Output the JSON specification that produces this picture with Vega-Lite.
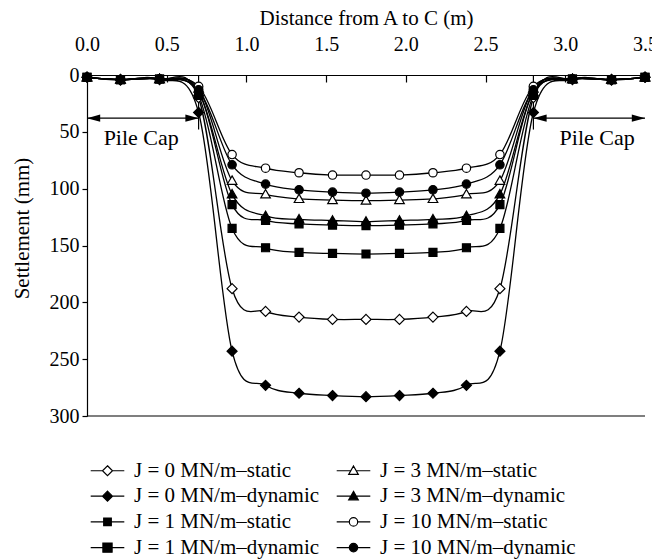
{
  "$schema": "https://vega.github.io/schema/vega-lite/v6.json",
  "width": 558,
  "height": 341,
  "autosize": {"type": "none"},
  "padding": {"left": 87, "top": 75, "right": 7, "bottom": 144},
  "background": "white",
  "config": {
    "view": {"stroke": null},
    "font": "Liberation Serif",
    "axis": {"labelFont": "Liberation Serif", "titleFont": "Liberation Serif", "labelFontSize": 20, "titleFontSize": 21, "titleFontWeight": "normal", "domainColor": "black", "tickColor": "black", "labelColor": "black", "titleColor": "black", "grid": false, "domainWidth": 1.2, "tickWidth": 1.2},
    "legend": {"symbolOpacity": 1, "symbolStrokeWidth": 1.2, "labelFont": "Liberation Serif", "labelFontSize": 21, "labelColor": "black", "labelLimit": 400}
  },
  "datasets": {
    "curves": [
      {"series": "J = 0 MN/m–static", "x": 0, "y": 2}, {"series": "J = 0 MN/m–static", "x": 0.21, "y": 4}, {"series": "J = 0 MN/m–static", "x": 0.455, "y": 3.5}, {"series": "J = 0 MN/m–static", "x": 0.7, "y": 20}, {"series": "J = 0 MN/m–static", "x": 0.91, "y": 188}, {"series": "J = 0 MN/m–static", "x": 1.12, "y": 208}, {"series": "J = 0 MN/m–static", "x": 1.33, "y": 213}, {"series": "J = 0 MN/m–static", "x": 1.54, "y": 215}, {"series": "J = 0 MN/m–static", "x": 1.75, "y": 215}, {"series": "J = 0 MN/m–static", "x": 1.96, "y": 215}, {"series": "J = 0 MN/m–static", "x": 2.17, "y": 213}, {"series": "J = 0 MN/m–static", "x": 2.38, "y": 208}, {"series": "J = 0 MN/m–static", "x": 2.59, "y": 188}, {"series": "J = 0 MN/m–static", "x": 2.8, "y": 20}, {"series": "J = 0 MN/m–static", "x": 3.045, "y": 3.5}, {"series": "J = 0 MN/m–static", "x": 3.29, "y": 4}, {"series": "J = 0 MN/m–static", "x": 3.5, "y": 2},
      {"series": "J = 0 MN/m–dynamic", "x": 0, "y": 2}, {"series": "J = 0 MN/m–dynamic", "x": 0.21, "y": 4.5}, {"series": "J = 0 MN/m–dynamic", "x": 0.455, "y": 4}, {"series": "J = 0 MN/m–dynamic", "x": 0.7, "y": 33}, {"series": "J = 0 MN/m–dynamic", "x": 0.91, "y": 243}, {"series": "J = 0 MN/m–dynamic", "x": 1.12, "y": 273}, {"series": "J = 0 MN/m–dynamic", "x": 1.33, "y": 280}, {"series": "J = 0 MN/m–dynamic", "x": 1.54, "y": 282}, {"series": "J = 0 MN/m–dynamic", "x": 1.75, "y": 283}, {"series": "J = 0 MN/m–dynamic", "x": 1.96, "y": 282}, {"series": "J = 0 MN/m–dynamic", "x": 2.17, "y": 280}, {"series": "J = 0 MN/m–dynamic", "x": 2.38, "y": 273}, {"series": "J = 0 MN/m–dynamic", "x": 2.59, "y": 243}, {"series": "J = 0 MN/m–dynamic", "x": 2.8, "y": 33}, {"series": "J = 0 MN/m–dynamic", "x": 3.045, "y": 4}, {"series": "J = 0 MN/m–dynamic", "x": 3.29, "y": 4.5}, {"series": "J = 0 MN/m–dynamic", "x": 3.5, "y": 2},
      {"series": "J = 1 MN/m–static", "x": 0, "y": 2}, {"series": "J = 1 MN/m–static", "x": 0.21, "y": 4}, {"series": "J = 1 MN/m–static", "x": 0.455, "y": 3.5}, {"series": "J = 1 MN/m–static", "x": 0.7, "y": 14}, {"series": "J = 1 MN/m–static", "x": 0.91, "y": 114}, {"series": "J = 1 MN/m–static", "x": 1.12, "y": 128}, {"series": "J = 1 MN/m–static", "x": 1.33, "y": 131}, {"series": "J = 1 MN/m–static", "x": 1.54, "y": 132}, {"series": "J = 1 MN/m–static", "x": 1.75, "y": 132.5}, {"series": "J = 1 MN/m–static", "x": 1.96, "y": 132}, {"series": "J = 1 MN/m–static", "x": 2.17, "y": 131}, {"series": "J = 1 MN/m–static", "x": 2.38, "y": 128}, {"series": "J = 1 MN/m–static", "x": 2.59, "y": 114}, {"series": "J = 1 MN/m–static", "x": 2.8, "y": 14}, {"series": "J = 1 MN/m–static", "x": 3.045, "y": 3.5}, {"series": "J = 1 MN/m–static", "x": 3.29, "y": 4}, {"series": "J = 1 MN/m–static", "x": 3.5, "y": 2},
      {"series": "J = 1 MN/m–dynamic", "x": 0, "y": 2}, {"series": "J = 1 MN/m–dynamic", "x": 0.21, "y": 4}, {"series": "J = 1 MN/m–dynamic", "x": 0.455, "y": 3.5}, {"series": "J = 1 MN/m–dynamic", "x": 0.7, "y": 18}, {"series": "J = 1 MN/m–dynamic", "x": 0.91, "y": 135}, {"series": "J = 1 MN/m–dynamic", "x": 1.12, "y": 152}, {"series": "J = 1 MN/m–dynamic", "x": 1.33, "y": 156}, {"series": "J = 1 MN/m–dynamic", "x": 1.54, "y": 157}, {"series": "J = 1 MN/m–dynamic", "x": 1.75, "y": 157.5}, {"series": "J = 1 MN/m–dynamic", "x": 1.96, "y": 157}, {"series": "J = 1 MN/m–dynamic", "x": 2.17, "y": 156}, {"series": "J = 1 MN/m–dynamic", "x": 2.38, "y": 152}, {"series": "J = 1 MN/m–dynamic", "x": 2.59, "y": 135}, {"series": "J = 1 MN/m–dynamic", "x": 2.8, "y": 18}, {"series": "J = 1 MN/m–dynamic", "x": 3.045, "y": 3.5}, {"series": "J = 1 MN/m–dynamic", "x": 3.29, "y": 4}, {"series": "J = 1 MN/m–dynamic", "x": 3.5, "y": 2},
      {"series": "J = 3 MN/m–static", "x": 0, "y": 2}, {"series": "J = 3 MN/m–static", "x": 0.21, "y": 4}, {"series": "J = 3 MN/m–static", "x": 0.455, "y": 3.5}, {"series": "J = 3 MN/m–static", "x": 0.7, "y": 12}, {"series": "J = 3 MN/m–static", "x": 0.91, "y": 93}, {"series": "J = 3 MN/m–static", "x": 1.12, "y": 105}, {"series": "J = 3 MN/m–static", "x": 1.33, "y": 109}, {"series": "J = 3 MN/m–static", "x": 1.54, "y": 110}, {"series": "J = 3 MN/m–static", "x": 1.75, "y": 110.5}, {"series": "J = 3 MN/m–static", "x": 1.96, "y": 110}, {"series": "J = 3 MN/m–static", "x": 2.17, "y": 109}, {"series": "J = 3 MN/m–static", "x": 2.38, "y": 105}, {"series": "J = 3 MN/m–static", "x": 2.59, "y": 93}, {"series": "J = 3 MN/m–static", "x": 2.8, "y": 12}, {"series": "J = 3 MN/m–static", "x": 3.045, "y": 3.5}, {"series": "J = 3 MN/m–static", "x": 3.29, "y": 4}, {"series": "J = 3 MN/m–static", "x": 3.5, "y": 2},
      {"series": "J = 3 MN/m–dynamic", "x": 0, "y": 2}, {"series": "J = 3 MN/m–dynamic", "x": 0.21, "y": 4}, {"series": "J = 3 MN/m–dynamic", "x": 0.455, "y": 3.5}, {"series": "J = 3 MN/m–dynamic", "x": 0.7, "y": 15}, {"series": "J = 3 MN/m–dynamic", "x": 0.91, "y": 105}, {"series": "J = 3 MN/m–dynamic", "x": 1.12, "y": 124}, {"series": "J = 3 MN/m–dynamic", "x": 1.33, "y": 127}, {"series": "J = 3 MN/m–dynamic", "x": 1.54, "y": 128}, {"series": "J = 3 MN/m–dynamic", "x": 1.75, "y": 129}, {"series": "J = 3 MN/m–dynamic", "x": 1.96, "y": 128}, {"series": "J = 3 MN/m–dynamic", "x": 2.17, "y": 127}, {"series": "J = 3 MN/m–dynamic", "x": 2.38, "y": 124}, {"series": "J = 3 MN/m–dynamic", "x": 2.59, "y": 105}, {"series": "J = 3 MN/m–dynamic", "x": 2.8, "y": 15}, {"series": "J = 3 MN/m–dynamic", "x": 3.045, "y": 3.5}, {"series": "J = 3 MN/m–dynamic", "x": 3.29, "y": 4}, {"series": "J = 3 MN/m–dynamic", "x": 3.5, "y": 2},
      {"series": "J = 10 MN/m–static", "x": 0, "y": 2}, {"series": "J = 10 MN/m–static", "x": 0.21, "y": 4}, {"series": "J = 10 MN/m–static", "x": 0.455, "y": 3.5}, {"series": "J = 10 MN/m–static", "x": 0.7, "y": 10}, {"series": "J = 10 MN/m–static", "x": 0.91, "y": 70}, {"series": "J = 10 MN/m–static", "x": 1.12, "y": 82}, {"series": "J = 10 MN/m–static", "x": 1.33, "y": 86}, {"series": "J = 10 MN/m–static", "x": 1.54, "y": 88}, {"series": "J = 10 MN/m–static", "x": 1.75, "y": 88}, {"series": "J = 10 MN/m–static", "x": 1.96, "y": 88}, {"series": "J = 10 MN/m–static", "x": 2.17, "y": 86}, {"series": "J = 10 MN/m–static", "x": 2.38, "y": 82}, {"series": "J = 10 MN/m–static", "x": 2.59, "y": 70}, {"series": "J = 10 MN/m–static", "x": 2.8, "y": 10}, {"series": "J = 10 MN/m–static", "x": 3.045, "y": 3.5}, {"series": "J = 10 MN/m–static", "x": 3.29, "y": 4}, {"series": "J = 10 MN/m–static", "x": 3.5, "y": 2},
      {"series": "J = 10 MN/m–dynamic", "x": 0, "y": 2}, {"series": "J = 10 MN/m–dynamic", "x": 0.21, "y": 4}, {"series": "J = 10 MN/m–dynamic", "x": 0.455, "y": 3.5}, {"series": "J = 10 MN/m–dynamic", "x": 0.7, "y": 13}, {"series": "J = 10 MN/m–dynamic", "x": 0.91, "y": 79}, {"series": "J = 10 MN/m–dynamic", "x": 1.12, "y": 96}, {"series": "J = 10 MN/m–dynamic", "x": 1.33, "y": 101}, {"series": "J = 10 MN/m–dynamic", "x": 1.54, "y": 103}, {"series": "J = 10 MN/m–dynamic", "x": 1.75, "y": 104}, {"series": "J = 10 MN/m–dynamic", "x": 1.96, "y": 103}, {"series": "J = 10 MN/m–dynamic", "x": 2.17, "y": 101}, {"series": "J = 10 MN/m–dynamic", "x": 2.38, "y": 96}, {"series": "J = 10 MN/m–dynamic", "x": 2.59, "y": 79}, {"series": "J = 10 MN/m–dynamic", "x": 2.8, "y": 13}, {"series": "J = 10 MN/m–dynamic", "x": 3.045, "y": 3.5}, {"series": "J = 10 MN/m–dynamic", "x": 3.29, "y": 4}, {"series": "J = 10 MN/m–dynamic", "x": 3.5, "y": 2}
    ],
    "caps": [
      {"x": 0, "x2": 0.7, "y": 38, "edge": 0.7, "top": 0, "bottom": 48, "label": "Pile Cap", "lx": 0.34, "ly": 55},
      {"x": 2.8, "x2": 3.5, "y": 38, "edge": 2.8, "top": 0, "bottom": 48, "label": "Pile Cap", "lx": 3.2, "ly": 55}
    ],
    "frame": [{"y": 300}]
  },
  "layer": [
    {
      "data": {"name": "caps"},
      "mark": {"type": "rule", "color": "black", "strokeWidth": 1.2},
      "encoding": {
        "x": {"field": "edge", "type": "quantitative", "scale": {"domain": [0, 3.5], "nice": false, "zero": false},
              "axis": {"orient": "top", "values": [0, 0.5, 1, 1.5, 2, 2.5, 3, 3.5], "format": ".1f", "tickSize": -7, "labelPadding": 28, "labelFlush": false, "labelOverlap": false, "title": "Distance from A to C (m)", "titlePadding": 6}},
        "y": {"field": "top", "type": "quantitative", "scale": {"domain": [0, 300], "reverse": true, "nice": false},
              "axis": {"orient": "left", "values": [0, 50, 100, 150, 200, 250, 300], "tickSize": 5, "labelPadding": 3, "title": "Settlement (mm)", "titlePadding": 17, "titleY": 153}},
        "y2": {"field": "bottom"}
      }
    },
    {
      "data": {"name": "frame"},
      "mark": {"type": "rule", "color": "black", "strokeWidth": 1.2},
      "encoding": {"y": {"field": "y", "type": "quantitative"}}
    },
    {
      "data": {"name": "caps"},
      "mark": {"type": "rule", "color": "black", "strokeWidth": 1.2},
      "encoding": {"x": {"field": "x", "type": "quantitative"}, "x2": {"field": "x2"}, "y": {"field": "y", "type": "quantitative"}}
    },
    {
      "data": {"name": "caps"},
      "mark": {"type": "point", "shape": "M0,0L2.2,-0.6L2.2,0.6Z", "size": 144, "filled": true, "color": "black", "opacity": 1, "strokeWidth": 0},
      "encoding": {"x": {"field": "x", "type": "quantitative"}, "y": {"field": "y", "type": "quantitative"}}
    },
    {
      "data": {"name": "caps"},
      "mark": {"type": "point", "shape": "M0,0L-2.2,-0.6L-2.2,0.6Z", "size": 144, "filled": true, "color": "black", "opacity": 1, "strokeWidth": 0},
      "encoding": {"x": {"field": "x2", "type": "quantitative"}, "y": {"field": "y", "type": "quantitative"}}
    },
    {
      "data": {"name": "caps"},
      "mark": {"type": "text", "font": "Liberation Serif", "fontSize": 22, "color": "black", "align": "center", "baseline": "middle"},
      "encoding": {"x": {"field": "lx", "type": "quantitative"}, "y": {"field": "ly", "type": "quantitative"}, "text": {"field": "label"}}
    },
    {
      "data": {"name": "curves"},
      "mark": {"type": "line", "interpolate": "cardinal", "color": "black", "strokeWidth": 1.3},
      "encoding": {"x": {"field": "x", "type": "quantitative"}, "y": {"field": "y", "type": "quantitative"}, "detail": {"field": "series"}}
    },
    {
      "data": {"name": "curves"},
      "transform": [{"filter": {"field": "series", "oneOf": ["J = 0 MN/m–static", "J = 0 MN/m–dynamic"]}}],
      "mark": {"type": "point", "shape": "M0,-1.25L1.25,0L0,1.25L-1.25,0Z", "size": 64, "filled": true, "stroke": "black", "strokeWidth": 1.2, "opacity": 1},
      "encoding": {"x": {"field": "x", "type": "quantitative"}, "y": {"field": "y", "type": "quantitative"},
        "fill": {"field": "series", "type": "nominal", "scale": {"domain": ["J = 0 MN/m–static", "J = 0 MN/m–dynamic", "J = 1 MN/m–static", "J = 1 MN/m–dynamic", "J = 3 MN/m–static", "J = 3 MN/m–dynamic", "J = 10 MN/m–static", "J = 10 MN/m–dynamic"], "range": ["white", "black", "black", "black", "white", "black", "white", "black"]}}}
    },
    {
      "data": {"name": "curves"},
      "transform": [{"filter": {"field": "series", "oneOf": ["J = 1 MN/m–static", "J = 1 MN/m–dynamic"]}}],
      "mark": {"type": "point", "shape": "M-1,-1H1V1H-1Z", "size": 64, "filled": true, "stroke": "black", "strokeWidth": 1.2, "opacity": 1},
      "encoding": {"x": {"field": "x", "type": "quantitative"}, "y": {"field": "y", "type": "quantitative"},
        "fill": {"field": "series", "type": "nominal"}}
    },
    {
      "data": {"name": "curves"},
      "transform": [{"filter": {"field": "series", "oneOf": ["J = 3 MN/m–static", "J = 3 MN/m–dynamic"]}}],
      "mark": {"type": "point", "shape": "M0,-1.2L1.2,0.9L-1.2,0.9Z", "size": 64, "filled": true, "stroke": "black", "strokeWidth": 1.2, "opacity": 1},
      "encoding": {"x": {"field": "x", "type": "quantitative"}, "y": {"field": "y", "type": "quantitative"},
        "fill": {"field": "series", "type": "nominal"}}
    },
    {
      "data": {"name": "curves"},
      "transform": [{"filter": {"field": "series", "oneOf": ["J = 10 MN/m–static", "J = 10 MN/m–dynamic"]}}],
      "mark": {"type": "point", "shape": "M-1.05,0A1.05,1.05,0,1,1,1.05,0A1.05,1.05,0,1,1,-1.05,0Z", "size": 64, "filled": true, "stroke": "black", "strokeWidth": 1.2, "opacity": 1},
      "encoding": {"x": {"field": "x", "type": "quantitative"}, "y": {"field": "y", "type": "quantitative"},
        "fill": {"field": "series", "type": "nominal"}}
    },
    {
      "data": {"name": "curves"},
      "mark": {"type": "point", "filled": true, "stroke": "black", "strokeWidth": 1.2, "opacity": 1, "fillOpacity": 0, "strokeOpacity": 0},
      "encoding": {"x": {"field": "x", "type": "quantitative"}, "y": {"field": "y", "type": "quantitative"},
        "fill": {"field": "series", "type": "nominal",
          "legend": {"orient": "none", "legendX": 10, "legendY": 385, "columns": 2, "title": null, "symbolSize": 64, "labelFontSize": 21, "labelOffset": 16, "rowPadding": 3.7, "columnPadding": 4, "gridAlign": "all", "symbolOpacity": 1, "symbolStrokeWidth": 1.2, "padding": 0, "labelLimit": 400,
            "encoding": {"symbols": {"update": {"fillOpacity": {"value": 1}, "strokeOpacity": {"value": 1}, "opacity": {"value": 1}, "stroke": {"value": "black"}}}}}},
        "shape": {"field": "series", "type": "nominal",
          "legend": {"orient": "none", "legendX": 10, "legendY": 385, "columns": 2, "title": null, "symbolSize": 64, "labelFontSize": 21, "labelOffset": 16, "rowPadding": 3.7, "columnPadding": 4, "gridAlign": "all", "symbolOpacity": 1, "symbolStrokeWidth": 1.2, "padding": 0, "labelLimit": 400,
            "encoding": {"symbols": {"update": {"fillOpacity": {"value": 1}, "strokeOpacity": {"value": 1}, "opacity": {"value": 1}, "stroke": {"value": "black"}}}}},
          "scale": {"domain": ["J = 0 MN/m–static", "J = 0 MN/m–dynamic", "J = 1 MN/m–static", "J = 1 MN/m–dynamic", "J = 3 MN/m–static", "J = 3 MN/m–dynamic", "J = 10 MN/m–static", "J = 10 MN/m–dynamic"],
          "range": [
            "M-4.2,0H-1.25M1.25,0H4.2M0,-1.25L1.25,0L0,1.25L-1.25,0Z",
            "M-4.2,0H4.2M0,-1.25L1.25,0L0,1.25L-1.25,0Z",
            "M-4.2,0H4.2M-0.95,-0.95H0.95V0.95H-0.95Z",
            "M-4.2,0H4.2M-1.15,-1.15H1.15V1.15H-1.15Z",
            "M-4.2,0H-0.7M0.7,0H4.2M0,-1.2L1.2,0.9L-1.2,0.9Z",
            "M-4.2,0H4.2M0,-1.2L1.2,0.9L-1.2,0.9Z",
            "M-4.2,0H-1.05M1.05,0H4.2M-1.05,0A1.05,1.05,0,1,1,1.05,0A1.05,1.05,0,1,1,-1.05,0Z",
            "M-4.2,0H4.2M-1.05,0A1.05,1.05,0,1,1,1.05,0A1.05,1.05,0,1,1,-1.05,0Z"
          ]}}
      }
    }
  ]
}
